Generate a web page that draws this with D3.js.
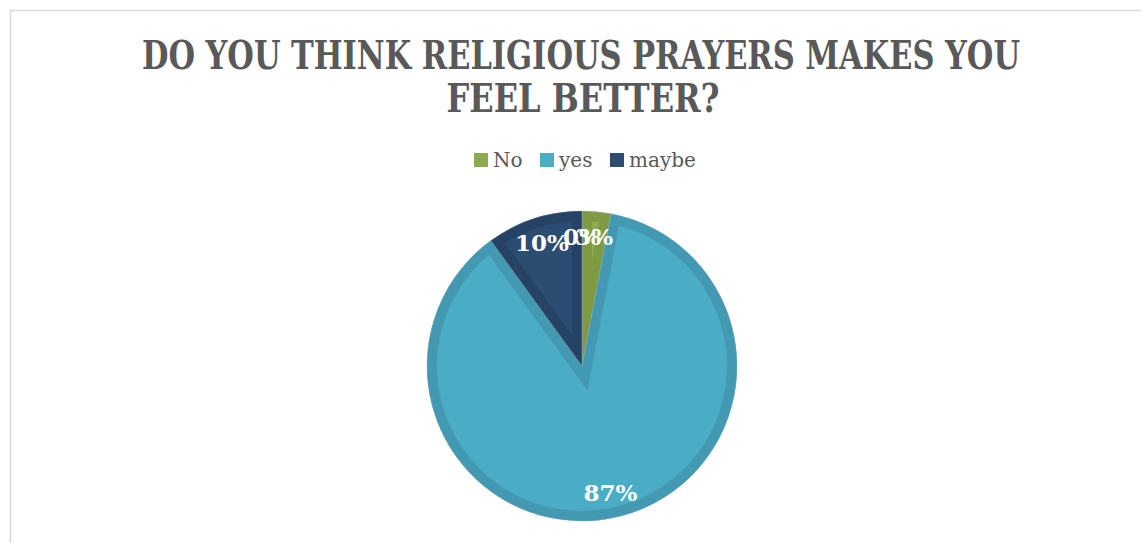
<!DOCTYPE html>
<html><head><meta charset="utf-8">
<script src="https://cdn.jsdelivr.net/npm/d3@7"></script>
<style>html,body{margin:0;padding:0;background:#fff;}svg{display:block;}</style>
</head><body>
<svg id="c" width="1141" height="543"></svg>
<script>
const titleLines = ["DO YOU THINK RELIGIOUS PRAYERS MAKES YOU", "FEEL BETTER?"];
const categories = ["No", "yes", "maybe", ""];
const values = [3, 87, 10, 0];
const labels = ["3%", "87%", "10%", "0%"];
const fills = ["#8EAC4F", "#4BACC6", "#2C4C72", "#999999"];
const bands = ["#7E9B44", "#4399B1", "#264265", "#888888"];

const svg = d3.select("#c");
// chart frame
svg.append("line").attr("x1",10).attr("y1",10.5).attr("x2",1141).attr("y2",10.5).attr("stroke","#d9d9d9").attr("stroke-width",1.5);
svg.append("line").attr("x1",10.5).attr("y1",10).attr("x2",10.5).attr("y2",543).attr("stroke","#d9d9d9").attr("stroke-width",1.5);

// title
const title = svg.append("g");
title.append("text").attr("x",581).attr("y",69).attr("text-anchor","middle")
  .attr("textLength",878).attr("lengthAdjust","spacingAndGlyphs")
  .style("font-family","'DejaVu Serif Condensed','DejaVu Serif',serif").style("font-weight","bold")
  .style("font-size","39px").attr("fill","#595959").text(titleLines[0]);
title.append("text").attr("x",583).attr("y",112).attr("text-anchor","middle")
  .attr("textLength",273).attr("lengthAdjust","spacingAndGlyphs")
  .style("font-family","'DejaVu Serif Condensed','DejaVu Serif',serif").style("font-weight","bold")
  .style("font-size","39px").attr("fill","#595959").text(titleLines[1]);

// legend
const legendX = [474, 540, 610];
const leg = svg.append("g");
categories.forEach((c,i) => {
  if (!c) return;
  leg.append("rect").attr("x",legendX[i]).attr("y",153).attr("width",14).attr("height",14).attr("fill",fills[i]);
  leg.append("text").attr("x",legendX[i]+19).attr("y",167)
    .style("font-family","'DejaVu Serif',serif").style("font-size","20px").attr("fill","#595959").text(c);
});

// pie
const cx = 582, cy = 366, R = 155;
const data = categories.map((c,i)=>({name:c, value:values[i], label:labels[i], i}));
const pie = d3.pie().value(d=>d.value).sort(null);
const arcs = pie(data);
const arc = d3.arc().innerRadius(0).outerRadius(R);
const labelArc = d3.arc().innerRadius(130).outerRadius(130);
const defs = svg.append("defs");
const g = svg.append("g").attr("transform",`translate(${cx},${cy})`);
arcs.forEach((a,k) => {
  if (a.data.value <= 0) return;
  const id = "clip"+k;
  defs.append("clipPath").attr("id",id).append("path").attr("d",arc(a));
  g.append("path").attr("d",arc(a)).attr("fill",fills[a.data.i]);
  g.append("path").attr("d",arc(a)).attr("fill","none").attr("stroke",bands[a.data.i])
    .attr("stroke-width",20).attr("stroke-linejoin","miter").attr("clip-path",`url(#${id})`);
  g.append("path").attr("d",arc(a)).attr("fill","none").attr("stroke","#9fb6c4").attr("stroke-width",0.6).attr("stroke-opacity",0.6);
});
arcs.forEach(a => {
  const [x,y] = labelArc.centroid(a);
  g.append("text").attr("x",x).attr("y",y).attr("text-anchor","middle").attr("dominant-baseline","central")
    .style("font-family","'DejaVu Serif',serif").style("font-weight","bold").style("font-size","23px")
    .attr("fill","#ffffff").text(a.data.label);
});
</script>
</body></html>
